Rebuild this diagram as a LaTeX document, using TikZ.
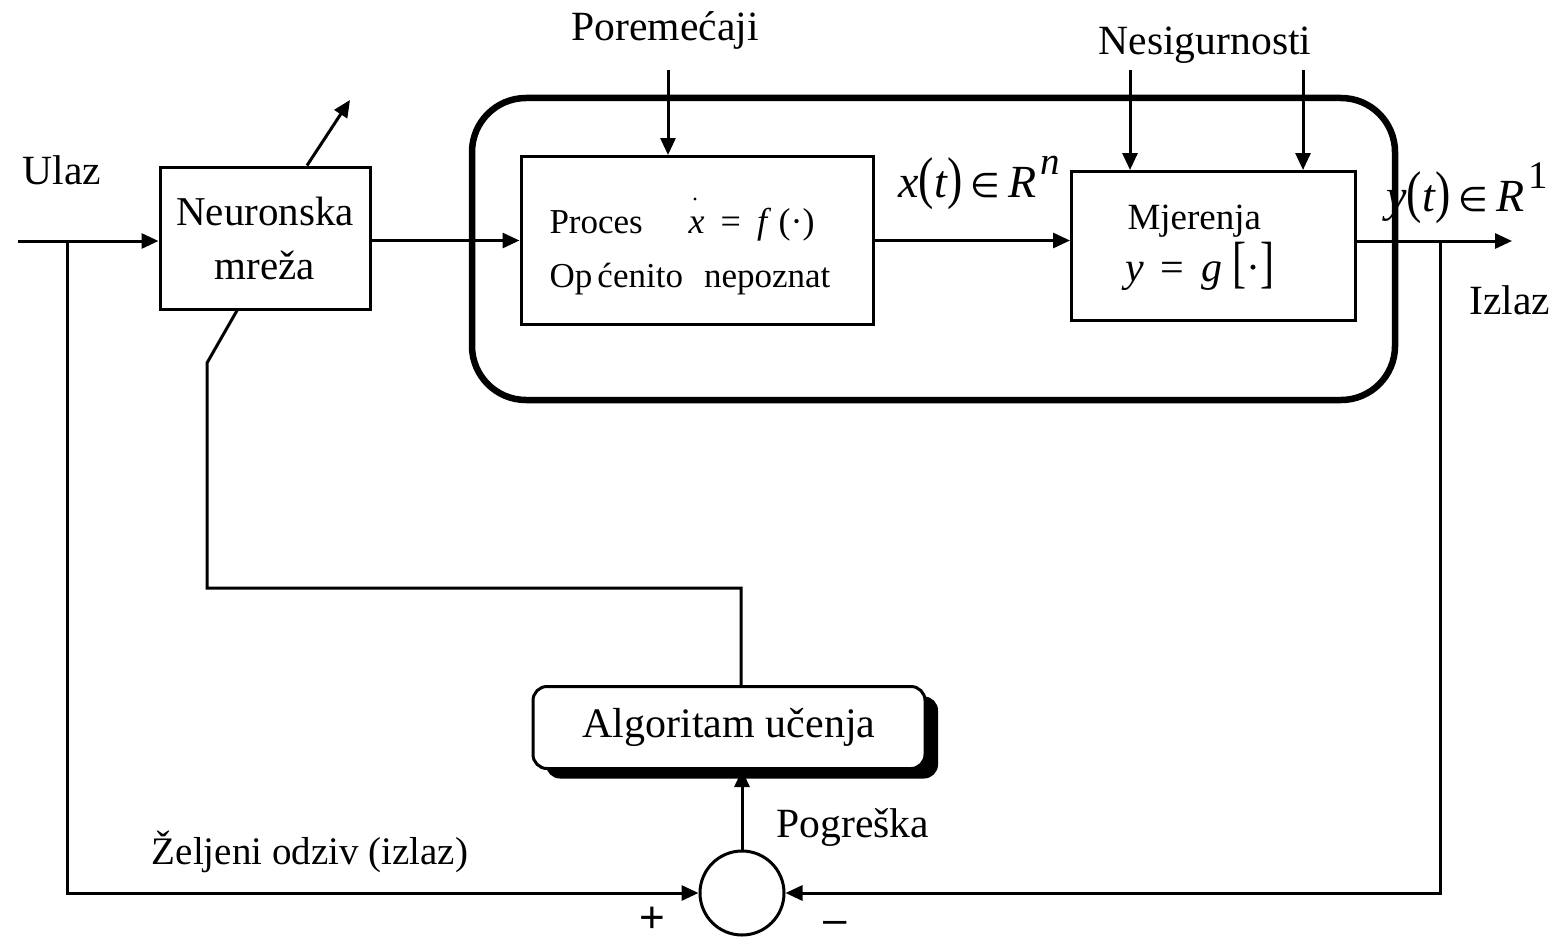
\documentclass[tikz,border=0pt]{standalone}
\usepackage{fontspec}
\usepackage{graphicx}
\setmainfont{Liberation Serif}
\newfontfamily\plusfont{Liberation Sans}
\newfontfamily\symfnt{DejaVu Sans}
\usetikzlibrary{arrows.meta,shadows}
\newcommand{\inrel}{{\symfnt\fontsize{17}{17}\selectfont ∈}}
\newcommand{\tallp}[1]{\scalebox{1}[1.25]{#1}}
\begin{document}
\begin{tikzpicture}[x=0.5pt,y=-0.5pt,line width=1.5pt,
  >={Triangle[length=8.5pt,width=7.5pt]},
  blk/.style={draw,rectangle,inner sep=0pt},
  lbl/.style={font=\fontsize{20.8}{25}\selectfont,inner sep=0pt},
  small/.style={font=\fontsize{17.5}{21}\selectfont,inner sep=0pt,anchor=base west},
  frm/.style={inner sep=0pt,anchor=base west}]
\useasboundingbox (0,0) rectangle (1561,947);

% plant enclosure
\node[draw,rounded corners=27pt,line width=3.25pt,minimum width=461.5pt,minimum height=151pt] (plant) at (933.5,249) {};

% blocks
\node[blk,minimum width=105pt,minimum height=71pt,align=center,font=\fontsize{20.5}{27}\selectfont] (nn) at (265,238) {Neuronska\\mreža};
\node[blk,minimum width=176pt,minimum height=84pt] (proc) at (697,240.5) {};
\node[blk,minimum width=142pt,minimum height=74.5pt] (meas) at (1213.5,246) {};
\node[draw,fill=white,rounded corners=7pt,minimum width=196pt,minimum height=41pt,
      font=\fontsize{21}{25}\selectfont,
      drop shadow={shadow xshift=6.5pt,shadow yshift=-5pt,fill=black,opacity=1}] (alg) at (729,727.5) {Algoritam učenja};
\node[draw,circle,minimum size=42pt,inner sep=0pt] (sum) at (742,893) {};

% text inside the process block
\node[small] (proctxt) at (548,233) {Proces};
\node[frm,font=\fontsize{18}{21}\selectfont] (procfx) at (687,233) {\textit{x}\hspace{0.45em}=\hspace{0.45em}\textit{f}\hspace{0.2em}(·)};
\fill (695,199) circle (0.8pt);
\node[small] (proctxt2) at (548,287) {Op\hspace{0.15em}ćenito\hspace{0.6em}nepoznat};

% text inside the measurement block
\node[frm,font=\fontsize{18.5}{22}\selectfont] (meastxt) at (1126,229) {Mjerenja};
\node[frm,font=\fontsize{21}{25}\selectfont] (measfx) at (1124,281) {\textit{y}\hspace{0.4em}=\hspace{0.4em}\textit{g}\hspace{0.25em}\scalebox{1}[1.35]{[}·\scalebox{1}[1.35]{]}};

% coordinates of free ends and branch points
\coordinate (in) at (18,241);
\coordinate (b1) at (67,241);
\coordinate (out) at (1512,241);
\coordinate (b2) at (1440,241);
\coordinate (d1) at (668,70);
\coordinate (u1) at (1130,70);
\coordinate (u2) at (1303,70);
\coordinate (wt) at (350,100);
\coordinate (k1) at (207,363);
\coordinate (k2) at (207,588);
\coordinate (k3) at (741,588);

% signal flow
\draw[->] (in) -- (in -| nn.west);
\draw[->] (b1) |- (sum.west);
\draw[->] (proc.west -| nn.east) -- (proc.west);
\draw[->] (proc.east) -- (proc.east -| meas.west);
\draw[->] (out -| meas.east) -- (out);
\draw[->] (b2) |- (sum.east);
\draw[->] (sum.north) -- (sum.north |- alg.south);
\draw[->] (d1) -- (d1 |- proc.north);
\draw[->] (u1) -- (u1 |- meas.north);
\draw[->] (u2) -- (u2 |- meas.north);
\draw[->] ([xshift=21pt]nn.north) -- (wt);
\draw ([xshift=-14pt]nn.south) -- (k1) -- (k2) -- (k3) -- (k3 |- alg.north);

% labels
\node[lbl] (ulaz) at (62,170) {Ulaz};
\node[lbl] (pore) at (665,30) {Poremećaji};
\node[lbl] (nesig) at (1205,45) {Nesigurnosti};
\node[lbl] (izlaz) at (1510,300) {Izlaz};
\node[lbl,font=\fontsize{19.5}{24}\selectfont] (zelj) at (310,852) {Željeni odziv (izlaz)};
\node[lbl] (pogr) at (853,828) {Pogreška};
\node[frm,font=\fontsize{23}{27}\selectfont] (xlab) at (897,197) {\textit{x}\tallp{(}\textit{t}\tallp{)}\,\inrel\,\textit{R}\raisebox{0.5em}{\fontsize{19.5}{19.5}\selectfont\hspace{0.1em}\textit{n}}};
\node[frm,font=\fontsize{23}{27}\selectfont] (ylab) at (1385,211) {\textit{y}\tallp{(}\textit{t}\tallp{)}\,\inrel\,\textit{R}\raisebox{0.5em}{\fontsize{19.5}{19.5}\selectfont\hspace{0.1em}1}};
\node[inner sep=0pt,font=\plusfont\fontsize{22}{22}\selectfont] (plus) at (652,920) {+};
\node[inner sep=0pt,font=\plusfont\fontsize{21}{21}\selectfont] (minus) at (835,927) {–};
\end{tikzpicture}
\end{document}
